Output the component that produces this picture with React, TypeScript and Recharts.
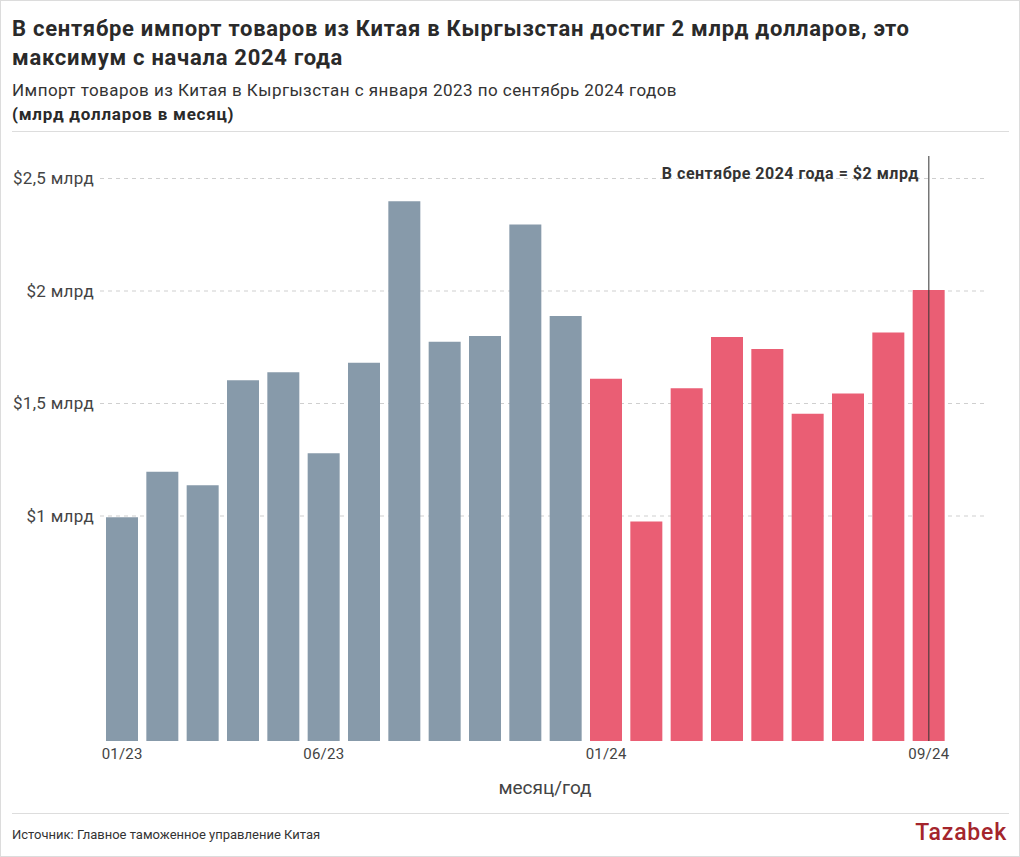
import React from "react";
import {
  BarChart,
  Bar,
  XAxis,
  YAxis,
  ReferenceLine,
  Cell,
} from "recharts";

// ---- Data ----
const months: string[] = [
  "01/23", "02/23", "03/23", "04/23", "05/23", "06/23", "07/23", "08/23", "09/23", "10/23", "11/23", "12/23",
  "01/24", "02/24", "03/24", "04/24", "05/24", "06/24", "07/24", "08/24", "09/24",
];
const importValues: number[] = [
  0.995, 1.197, 1.137, 1.603, 1.639, 1.279, 1.681, 2.399, 1.775, 1.8, 2.296, 1.889,
  1.61, 0.976, 1.568, 1.796, 1.742, 1.455, 1.545, 1.816, 2.004,
];
const shownMonthTicks: string[] = ["01/23", "06/23", "01/24", "09/24"];
const yTickValues: number[] = [1, 1.5, 2, 2.5];
const yTickLabels: string[] = ["$1 млрд", "$1,5 млрд", "$2 млрд", "$2,5 млрд"];
const highlightMonth = "09/24";

const titleLine1 = "В сентябре импорт товаров из Китая в Кыргызстан достиг 2 млрд долларов, это";
const titleLine2 = "максимум с начала 2024 года";
const subtitle = "Импорт товаров из Китая в Кыргызстан с января 2023 по сентябрь 2024 годов";
const subtitleBold = "(млрд долларов в месяц)";
const annotationText = "В сентябре 2024 года = $2 млрд";
const xAxisTitle = "месяц/год";
const sourceText = "Источник: Главное таможенное управление Китая";
const logoText = "Tazabek";

const GRAY = "#879aaa";
const RED = "#ea5e74";
const FONT = "Roboto, 'Noto Sans', sans-serif";

const data = months.map((m, i) => ({ month: m, value: importValues[i] }));

const XTick = (props: any) => {
  const { x, y, payload } = props;
  if (!shownMonthTicks.includes(payload.value)) return null;
  return (
    <text x={x} y={y} dy="0.71em" textAnchor="middle" fill="#444" fontSize={15} fontFamily={FONT} letterSpacing={0.2}>
      {payload.value}
    </text>
  );
};

const YTick = (props: any) => {
  const { x, y, payload } = props;
  const idx = yTickValues.indexOf(payload.value);
  return (
    <text x={x} y={y} dy="0.35em" textAnchor="end" fill="#444" fontSize={17} fontFamily={FONT} letterSpacing={0.3}>
      {idx >= 0 ? yTickLabels[idx] : ""}
    </text>
  );
};

const RefLabel = (props: any) => {
  const vb = props.viewBox || {};
  return (
    <text
      x={(vb.x ?? 0) - 10}
      y={(vb.y ?? 0) + 17}
      dy="0.35em"
      textAnchor="end"
      fill="#333"
      fontSize={16}
      fontWeight={700}
      fontFamily={FONT}
      letterSpacing={0.5}
    >
      {annotationText}
    </text>
  );
};

export default function App() {
  return (
    <div
      style={{
        position: "absolute",
        left: 0,
        top: 0,
        width: 1020,
        height: 857,
        boxSizing: "border-box",
        border: "1px solid #dcdcdc",
        background: "#fff",
        fontFamily: FONT,
        overflow: "hidden",
      }}
    >
      <div
        style={{
          position: "absolute",
          left: 11,
          top: 13,
          fontSize: 22,
          lineHeight: "29px",
          fontWeight: 700,
          color: "#2a2a2a",
          letterSpacing: 0.72,
          whiteSpace: "nowrap",
        }}
      >
        <div>{titleLine1}</div>
        <div>{titleLine2}</div>
      </div>
      <div
        style={{
          position: "absolute",
          left: 11,
          top: 78,
          fontSize: 17,
          lineHeight: "22px",
          color: "#333",
          letterSpacing: 0.45,
          whiteSpace: "nowrap",
        }}
      >
        {subtitle}
      </div>
      <div
        style={{
          position: "absolute",
          left: 11,
          top: 102,
          fontSize: 17,
          lineHeight: "22px",
          color: "#2a2a2a",
          fontWeight: 700,
          letterSpacing: 0.75,
          whiteSpace: "nowrap",
        }}
      >
        {subtitleBold}
      </div>
      <div style={{ position: "absolute", left: 11, top: 130, width: 997, height: 1, background: "#ddd" }} />

      <div style={{ position: "absolute", left: -1, top: -1 }}>
        <BarChart
          width={1020}
          height={857}
          data={data}
          margin={{ top: 156, right: 32, left: 0, bottom: 86 }}
        >
          <XAxis
            dataKey="month"
            interval={0}
            axisLine={false}
            tickLine={false}
            tickSize={0}
            tickMargin={7}
            height={30}
            padding={{ left: 2, right: 39 }}
            tick={<XTick />}
          />
          <YAxis
            domain={[0, 2.6]}
            ticks={yTickValues}
            axisLine={false}
            tickLine={false}
            tickSize={0}
            tickMargin={6}
            width={100}
            tick={<YTick />}
          />
          {yTickValues.map((v) => (
            <ReferenceLine key={v} y={v} stroke="#cfcfcf" strokeDasharray="4 4" zIndex={-100} />
          ))}
          <Bar dataKey="value" barSize={32} isAnimationActive={false}>
            {data.map((d) => (
              <Cell key={d.month} fill={d.month.endsWith("/23") ? GRAY : RED} />
            ))}
          </Bar>
          <ReferenceLine x={highlightMonth} stroke="#333" strokeWidth={1} label={<RefLabel />} />
        </BarChart>
      </div>

      <div
        style={{
          position: "absolute",
          left: 444,
          width: 200,
          top: 775,
          textAlign: "center",
          fontSize: 19,
          lineHeight: "24px",
          color: "#444",
        }}
      >
        {xAxisTitle}
      </div>
      <div style={{ position: "absolute", left: 11, top: 812, width: 997, height: 1, background: "#ddd" }} />
      <div
        style={{ position: "absolute", left: 11, top: 825, fontSize: 13, lineHeight: "18px", color: "#333", whiteSpace: "nowrap" }}
      >
        {sourceText}
      </div>
      <div
        style={{
          position: "absolute",
          right: 12,
          top: 818,
          fontSize: 23,
          lineHeight: "28px",
          color: "#a4252c",
          fontWeight: 500,
          letterSpacing: 0.8,
          whiteSpace: "nowrap",
        }}
      >
        {logoText}
      </div>
    </div>
  );
}
